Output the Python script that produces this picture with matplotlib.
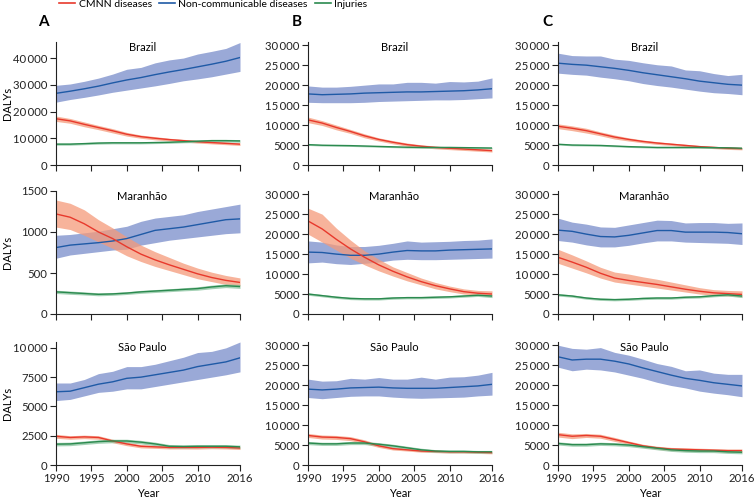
import matplotlib
matplotlib.use("Agg")
import matplotlib.pyplot as plt
from matplotlib.ticker import FuncFormatter, FixedLocator
from matplotlib.lines import Line2D

plt.rcParams['font.family'] = ['Lato', 'DejaVu Sans']

years = [1990, 1992, 1994, 1996, 1998, 2000, 2002, 2004, 2006, 2008, 2010, 2012, 2014, 2016]
columns = ["A", "B", "C"]
locations = ["Brazil", "Maranhão", "São Paulo"]
series_names = ["CMNN diseases", "Non-communicable diseases", "Injuries"]
x_ticks = [1990, 1995, 2000, 2005, 2010, 2016]

# ---------------- Column A ----------------
a_brazil_ncd = [26800, 27600, 28500, 29500, 30700, 31800, 32700, 33800, 34800, 35700, 36700, 37700, 38800, 40200]
a_brazil_ncd_hi = [29800, 30300, 31300, 32500, 34000, 35800, 36500, 38200, 39300, 40000, 41500, 42500, 43600, 45800]
a_brazil_ncd_lo = [23500, 24500, 25300, 26200, 27200, 28000, 28800, 29600, 30500, 31500, 32200, 33000, 34000, 35000]
a_brazil_cmnn = [17300, 16500, 15200, 14000, 12800, 11500, 10600, 10000, 9500, 9100, 8700, 8400, 8100, 7800]
a_brazil_cmnn_hi = [18300, 17400, 16100, 14800, 13600, 12200, 11200, 10600, 10000, 9600, 9200, 8900, 8600, 8300]
a_brazil_cmnn_lo = [16300, 15600, 14300, 13200, 12000, 10800, 10000, 9400, 9000, 8600, 8200, 7900, 7600, 7300]
a_brazil_inj = [7800, 7800, 8000, 8200, 8300, 8300, 8300, 8400, 8500, 8700, 8900, 9100, 9100, 9000]
a_brazil_inj_hi = [8200, 8200, 8400, 8600, 8700, 8700, 8700, 8800, 8900, 9100, 9400, 9600, 9600, 9500]
a_brazil_inj_lo = [7400, 7400, 7600, 7800, 7900, 7900, 7900, 8000, 8100, 8300, 8400, 8600, 8600, 8500]

a_maranhao_ncd = [810, 840, 855, 870, 890, 920, 970, 1020, 1040, 1060, 1090, 1120, 1150, 1160]
a_maranhao_ncd_hi = [960, 970, 990, 1010, 1040, 1070, 1130, 1170, 1190, 1210, 1250, 1280, 1310, 1340]
a_maranhao_ncd_lo = [680, 720, 740, 760, 780, 790, 840, 870, 900, 920, 940, 960, 980, 990]
a_maranhao_cmnn = [1220, 1180, 1100, 1000, 920, 820, 730, 660, 600, 545, 490, 445, 410, 385]
a_maranhao_cmnn_hi = [1390, 1350, 1270, 1150, 1050, 940, 840, 760, 690, 620, 560, 510, 470, 440]
a_maranhao_cmnn_lo = [1060, 1030, 960, 880, 800, 710, 640, 580, 530, 480, 430, 395, 360, 340]
a_maranhao_inj = [270, 260, 250, 240, 245, 255, 270, 280, 290, 300, 310, 330, 345, 335]
a_maranhao_inj_hi = [290, 280, 270, 258, 262, 272, 288, 298, 308, 320, 332, 352, 368, 360]
a_maranhao_inj_lo = [250, 240, 232, 222, 228, 238, 252, 262, 272, 282, 290, 308, 322, 312]

a_saopaulo_ncd = [6250, 6300, 6600, 6900, 7100, 7400, 7500, 7700, 7900, 8100, 8400, 8600, 8800, 9150]
a_saopaulo_ncd_hi = [7000, 7000, 7300, 7800, 8000, 8400, 8400, 8600, 8900, 9200, 9600, 9700, 10000, 10500]
a_saopaulo_ncd_lo = [5500, 5600, 5900, 6200, 6300, 6500, 6500, 6700, 6900, 7100, 7300, 7500, 7700, 7950]
a_saopaulo_cmnn = [2450, 2350, 2400, 2350, 2050, 1800, 1600, 1550, 1500, 1500, 1500, 1520, 1500, 1450]
a_saopaulo_cmnn_hi = [2620, 2500, 2550, 2500, 2200, 1950, 1740, 1680, 1630, 1630, 1640, 1650, 1630, 1580]
a_saopaulo_cmnn_lo = [2280, 2200, 2250, 2200, 1900, 1650, 1460, 1420, 1370, 1370, 1360, 1390, 1370, 1320]
a_saopaulo_inj = [1780, 1800, 1900, 2000, 2050, 2050, 1950, 1800, 1600, 1580, 1600, 1600, 1600, 1550]
a_saopaulo_inj_hi = [1930, 1950, 2050, 2150, 2200, 2200, 2100, 1950, 1750, 1720, 1740, 1740, 1740, 1700]
a_saopaulo_inj_lo = [1630, 1650, 1750, 1850, 1900, 1900, 1800, 1650, 1450, 1440, 1460, 1460, 1460, 1400]

# ---------------- Column B ----------------
b_brazil_ncd = [17800, 17600, 17700, 17800, 18000, 18100, 18200, 18300, 18300, 18400, 18500, 18600, 18800, 19100]
b_brazil_ncd_hi = [19800, 19500, 19500, 19700, 20000, 20300, 20300, 20700, 20700, 20500, 20900, 20800, 21000, 21800]
b_brazil_ncd_lo = [15700, 15600, 15600, 15600, 15700, 15900, 16000, 16100, 16200, 16300, 16300, 16400, 16600, 16800]
b_brazil_cmnn = [11300, 10500, 9400, 8400, 7300, 6400, 5700, 5100, 4700, 4400, 4200, 4000, 3800, 3600]
b_brazil_cmnn_hi = [12000, 11100, 10000, 8900, 7800, 6800, 6100, 5500, 5050, 4750, 4550, 4350, 4150, 3950]
b_brazil_cmnn_lo = [10600, 9900, 8800, 7900, 6800, 6000, 5300, 4700, 4350, 4050, 3850, 3650, 3450, 3250]
b_brazil_inj = [5100, 4950, 4900, 4850, 4750, 4650, 4550, 4450, 4400, 4400, 4400, 4350, 4300, 4250]
b_brazil_inj_hi = [5300, 5150, 5100, 5050, 4950, 4850, 4750, 4650, 4600, 4600, 4600, 4550, 4500, 4450]
b_brazil_inj_lo = [4900, 4750, 4700, 4650, 4550, 4450, 4350, 4250, 4200, 4200, 4200, 4150, 4100, 4050]

b_maranhao_ncd = [15500, 15400, 15000, 14700, 14700, 15000, 15500, 15900, 15800, 15800, 16000, 16100, 16200, 16300]
b_maranhao_ncd_hi = [18300, 18000, 17300, 16900, 16900, 17200, 17700, 18300, 18000, 18100, 18200, 18400, 18500, 18800]
b_maranhao_ncd_lo = [12800, 13000, 12600, 12400, 12700, 13000, 13500, 13700, 13600, 13600, 13700, 13800, 13900, 14000]
b_maranhao_cmnn = [23300, 21300, 18700, 16300, 14200, 12300, 10700, 9300, 8100, 7100, 6300, 5600, 5200, 5000]
b_maranhao_cmnn_hi = [26500, 25000, 21500, 18500, 15800, 13700, 11800, 10400, 9000, 7900, 7000, 6300, 5900, 5800]
b_maranhao_cmnn_lo = [20000, 18000, 16000, 14000, 12300, 10800, 9500, 8300, 7300, 6300, 5600, 5000, 4700, 4500]
b_maranhao_inj = [5000, 4600, 4200, 3900, 3800, 3800, 4000, 4100, 4100, 4200, 4300, 4500, 4700, 4500]
b_maranhao_inj_hi = [5300, 4900, 4500, 4200, 4100, 4100, 4300, 4400, 4400, 4500, 4600, 4800, 5000, 4900]
b_maranhao_inj_lo = [4700, 4300, 3900, 3600, 3500, 3500, 3700, 3800, 3800, 3900, 4000, 4200, 4400, 4100]

b_saopaulo_ncd = [19000, 18800, 19000, 19300, 19400, 19500, 19300, 19200, 19200, 19200, 19400, 19600, 19800, 20200]
b_saopaulo_ncd_hi = [21500, 21000, 21100, 21700, 21500, 21900, 21500, 21500, 22000, 21500, 22000, 22100, 22500, 23200]
b_saopaulo_ncd_lo = [16900, 16600, 16900, 17200, 17300, 17300, 17000, 16800, 16700, 16800, 16900, 17000, 17300, 17500]
b_saopaulo_cmnn = [7400, 7000, 6900, 6600, 5800, 4800, 4100, 3800, 3500, 3400, 3300, 3300, 3200, 3100]
b_saopaulo_cmnn_hi = [7900, 7500, 7400, 7100, 6300, 5200, 4450, 4100, 3800, 3700, 3600, 3600, 3500, 3400]
b_saopaulo_cmnn_lo = [6900, 6500, 6400, 6100, 5300, 4400, 3750, 3500, 3200, 3100, 3000, 3000, 2900, 2800]
b_saopaulo_inj = [5500, 5300, 5300, 5500, 5500, 5200, 4800, 4300, 3800, 3500, 3400, 3400, 3300, 3300]
b_saopaulo_inj_hi = [5900, 5700, 5700, 5900, 5900, 5600, 5200, 4700, 4200, 3850, 3750, 3750, 3650, 3650]
b_saopaulo_inj_lo = [5100, 4900, 4900, 5100, 5100, 4800, 4400, 3900, 3400, 3150, 3050, 3050, 2950, 2950]

# ---------------- Column C ----------------
c_brazil_ncd = [25500, 25200, 25000, 24600, 24200, 23700, 23100, 22600, 22100, 21600, 21000, 20600, 20200, 20000]
c_brazil_ncd_hi = [28000, 27400, 27300, 27300, 26500, 26200, 25600, 25100, 24800, 23800, 23600, 22900, 22400, 22700]
c_brazil_ncd_lo = [23000, 22700, 22500, 22000, 21600, 21100, 20400, 19900, 19500, 19000, 18500, 18100, 17900, 17600]
c_brazil_cmnn = [9700, 9200, 8600, 7800, 7000, 6400, 5900, 5500, 5200, 4900, 4600, 4400, 4200, 4100]
c_brazil_cmnn_hi = [10300, 9800, 9200, 8300, 7500, 6800, 6250, 5850, 5500, 5200, 4900, 4700, 4500, 4400]
c_brazil_cmnn_lo = [9100, 8600, 8000, 7300, 6500, 6000, 5550, 5150, 4900, 4600, 4300, 4100, 3900, 3800]
c_brazil_inj = [5200, 5000, 4950, 4900, 4750, 4600, 4500, 4400, 4400, 4400, 4400, 4350, 4300, 4200]
c_brazil_inj_hi = [5400, 5200, 5150, 5100, 4950, 4800, 4700, 4600, 4600, 4600, 4600, 4550, 4500, 4400]
c_brazil_inj_lo = [5000, 4800, 4750, 4700, 4550, 4400, 4300, 4200, 4200, 4200, 4200, 4150, 4100, 4000]

c_maranhao_ncd = [21000, 20700, 20000, 19400, 19300, 19700, 20300, 20900, 20900, 20500, 20500, 20500, 20400, 20100]
c_maranhao_ncd_hi = [24000, 23000, 22500, 21800, 21700, 22300, 22900, 23500, 23400, 22800, 22900, 22900, 22700, 22800]
c_maranhao_ncd_lo = [18400, 18000, 17300, 16800, 16800, 17200, 17800, 18300, 18300, 18000, 17900, 17800, 17700, 17400]
c_maranhao_cmnn = [14200, 13000, 11700, 10200, 9000, 8400, 7900, 7400, 6800, 6200, 5700, 5300, 5100, 4900]
c_maranhao_cmnn_hi = [16200, 14800, 13300, 11700, 10500, 10000, 9300, 8700, 8000, 7300, 6600, 6100, 5900, 5800]
c_maranhao_cmnn_lo = [12700, 11500, 10300, 9000, 8000, 7500, 7000, 6500, 6000, 5500, 5000, 4700, 4500, 4300]
c_maranhao_inj = [4800, 4500, 4000, 3700, 3600, 3700, 3900, 4000, 4000, 4200, 4300, 4600, 4800, 4500]
c_maranhao_inj_hi = [5100, 4800, 4300, 4000, 3900, 4000, 4200, 4300, 4300, 4500, 4600, 4900, 5100, 4900]
c_maranhao_inj_lo = [4500, 4200, 3700, 3400, 3300, 3400, 3600, 3700, 3700, 3900, 4000, 4300, 4500, 4100]

c_saopaulo_ncd = [27100, 26300, 26500, 26500, 26000, 25300, 24300, 23400, 22500, 21700, 21200, 20600, 20200, 19800]
c_saopaulo_ncd_hi = [30000, 29200, 29000, 29400, 28200, 27500, 26500, 25400, 24700, 23600, 23800, 23000, 22700, 22700]
c_saopaulo_ncd_lo = [24500, 23600, 24000, 23800, 23300, 22500, 21700, 20700, 19900, 19300, 18500, 18000, 17600, 17100]
c_saopaulo_cmnn = [7600, 7200, 7400, 7200, 6400, 5600, 4800, 4300, 4000, 3900, 3800, 3700, 3600, 3600]
c_saopaulo_cmnn_hi = [8200, 7800, 7900, 7700, 6900, 6000, 5200, 4700, 4400, 4300, 4200, 4100, 4000, 4000]
c_saopaulo_cmnn_lo = [7000, 6600, 6900, 6700, 5900, 5200, 4400, 3900, 3600, 3500, 3400, 3300, 3200, 3200]
c_saopaulo_inj = [5400, 5100, 5100, 5300, 5200, 5000, 4600, 4200, 3800, 3600, 3500, 3500, 3300, 3200]
c_saopaulo_inj_hi = [5800, 5500, 5500, 5700, 5600, 5400, 5000, 4600, 4200, 4000, 3900, 3900, 3700, 3600]
c_saopaulo_inj_lo = [5000, 4700, 4700, 4900, 4800, 4600, 4200, 3800, 3400, 3200, 3100, 3100, 2900, 2800]

panels = {
    ("A", 0): (a_brazil_cmnn, a_brazil_cmnn_lo, a_brazil_cmnn_hi, a_brazil_ncd, a_brazil_ncd_lo, a_brazil_ncd_hi, a_brazil_inj, a_brazil_inj_lo, a_brazil_inj_hi),
    ("A", 1): (a_maranhao_cmnn, a_maranhao_cmnn_lo, a_maranhao_cmnn_hi, a_maranhao_ncd, a_maranhao_ncd_lo, a_maranhao_ncd_hi, a_maranhao_inj, a_maranhao_inj_lo, a_maranhao_inj_hi),
    ("A", 2): (a_saopaulo_cmnn, a_saopaulo_cmnn_lo, a_saopaulo_cmnn_hi, a_saopaulo_ncd, a_saopaulo_ncd_lo, a_saopaulo_ncd_hi, a_saopaulo_inj, a_saopaulo_inj_lo, a_saopaulo_inj_hi),
    ("B", 0): (b_brazil_cmnn, b_brazil_cmnn_lo, b_brazil_cmnn_hi, b_brazil_ncd, b_brazil_ncd_lo, b_brazil_ncd_hi, b_brazil_inj, b_brazil_inj_lo, b_brazil_inj_hi),
    ("B", 1): (b_maranhao_cmnn, b_maranhao_cmnn_lo, b_maranhao_cmnn_hi, b_maranhao_ncd, b_maranhao_ncd_lo, b_maranhao_ncd_hi, b_maranhao_inj, b_maranhao_inj_lo, b_maranhao_inj_hi),
    ("B", 2): (b_saopaulo_cmnn, b_saopaulo_cmnn_lo, b_saopaulo_cmnn_hi, b_saopaulo_ncd, b_saopaulo_ncd_lo, b_saopaulo_ncd_hi, b_saopaulo_inj, b_saopaulo_inj_lo, b_saopaulo_inj_hi),
    ("C", 0): (c_brazil_cmnn, c_brazil_cmnn_lo, c_brazil_cmnn_hi, c_brazil_ncd, c_brazil_ncd_lo, c_brazil_ncd_hi, c_brazil_inj, c_brazil_inj_lo, c_brazil_inj_hi),
    ("C", 1): (c_maranhao_cmnn, c_maranhao_cmnn_lo, c_maranhao_cmnn_hi, c_maranhao_ncd, c_maranhao_ncd_lo, c_maranhao_ncd_hi, c_maranhao_inj, c_maranhao_inj_lo, c_maranhao_inj_hi),
    ("C", 2): (c_saopaulo_cmnn, c_saopaulo_cmnn_lo, c_saopaulo_cmnn_hi, c_saopaulo_ncd, c_saopaulo_ncd_lo, c_saopaulo_ncd_hi, c_saopaulo_inj, c_saopaulo_inj_lo, c_saopaulo_inj_hi),
}

y_ticks_A = [[0, 10000, 20000, 30000, 40000], [0, 500, 1000, 1500], [0, 2500, 5000, 7500, 10000]]
y_lims_A = [46000, 1500, 10500]
y_ticks_BC = [0, 5000, 10000, 15000, 20000, 25000, 30000]
y_lim_BC = 30800

line_cols = ["#e8392c", "#1f5aa6", "#2b8a4f"]
band_cols = ["#f59a7a", "#7e91cc", "#86c29c"]
band_alpha = [0.75, 0.78, 0.75]

def fmt(v, pos):
    v = int(round(v))
    if v >= 10000:
        return f"{v // 1000}\u2009{v % 1000:03d}"
    return str(v)

W, H = 756, 499
fig = plt.figure(figsize=(W / 100, H / 100), dpi=100)

col_left = [56, 308, 558]
col_w = 184
row_top = [42, 191, 342]
row_h = 123

for ci, col in enumerate(columns):
    for ri, loc in enumerate(locations):
        ax = fig.add_axes([col_left[ci] / W, 1 - (row_top[ri] + row_h) / H, col_w / W, row_h / H])
        d = panels[(col, ri)]
        order = [1, 0, 2]
        for si in order:
            m, lo, hi = d[3 * si], d[3 * si + 1], d[3 * si + 2]
            ax.fill_between(years, lo, hi, color=band_cols[si], alpha=band_alpha[si], lw=0)
        for si in order:
            m = d[3 * si]
            ax.plot(years, m, color=line_cols[si], lw=1.0)
        ax.set_xlim(1990, 2016)
        if col == "A":
            ax.set_ylim(0, y_lims_A[ri])
            ax.yaxis.set_major_locator(FixedLocator(y_ticks_A[ri]))
            ax.set_ylabel("DALYs", fontsize=8)
            ax.yaxis.set_label_coords(-0.235, 0.5)
        else:
            ax.set_ylim(0, y_lim_BC)
            ax.yaxis.set_major_locator(FixedLocator(y_ticks_BC))
        ax.yaxis.set_major_formatter(FuncFormatter(fmt))
        ax.xaxis.set_major_locator(FixedLocator(x_ticks))
        for s in ["top", "right"]:
            ax.spines[s].set_visible(False)
        for s in ["left", "bottom"]:
            ax.spines[s].set_linewidth(0.8)
            ax.spines[s].set_color("#222222")
        ax.tick_params(axis="both", direction="out", length=4, width=0.8, labelsize=8.2, colors="#222222", pad=2)
        if ri < 2:
            ax.tick_params(axis="x", labelbottom=False)
        else:
            ax.set_xlabel("Year", fontsize=8)
            ax.xaxis.set_label_coords(0.5, -0.185)
        ax.text(0.47, 0.955, loc, transform=ax.transAxes, ha="center", va="center", fontsize=8)
        ax.patch.set_visible(False)

# Panel letters
letter_x = [43, 297, 547]
for ci, col in enumerate(columns):
    fig.text(letter_x[ci] / W, 1 - 22 / H, col, ha="center", va="center", fontsize=11, fontweight="bold")

handles = [Line2D([0], [0], color=line_cols[i], lw=1.2) for i in range(3)]
fig.legend(handles, series_names, loc="upper left", bbox_to_anchor=(50 / W, 1.02), ncol=3,
           frameon=False, fontsize=7.5, handlelength=1.5, columnspacing=0.7, handletextpad=0.35)

fig.savefig("out.png", dpi=100)
